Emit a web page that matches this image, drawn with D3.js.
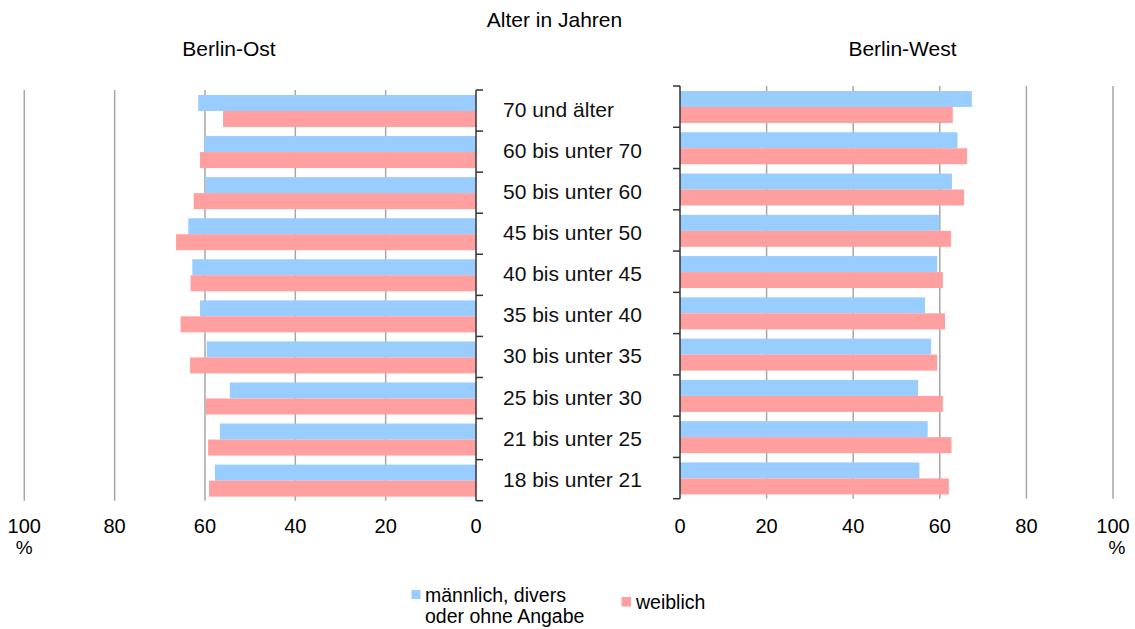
<!DOCTYPE html>
<html>
<head>
<meta charset="utf-8">
<script src="https://cdn.jsdelivr.net/npm/d3@7"></script>
<style>
  body { margin: 0; background: #fff; }
  svg { font-family: "Liberation Sans", Arial, sans-serif; }
  .grid line { stroke: #a6a6a6; stroke-width: 1.5; }
</style>
</head>
<body>
<div id="chart"></div>
<script>
// age groups, top to bottom
const groups = ['70 und älter', '60 bis unter 70', '50 bis unter 60', '45 bis unter 50',
  '40 bis unter 45', '35 bis unter 40', '30 bis unter 35', '25 bis unter 30',
  '21 bis unter 25', '18 bis unter 21'];
const series = ['männlich, divers oder ohne Angabe', 'weiblich'];
const colors = ['#99ccff', '#ff9f9f'];

// Berlin-Ost
const ostM = [61.5, 60.1, 59.9, 63.7, 62.8, 61.1, 59.6, 54.5, 56.7, 57.8];
const ostW = [56.0, 61.1, 62.5, 66.4, 63.2, 65.4, 63.3, 59.8, 59.3, 59.1];
// Berlin-West
const westM = [67.4, 64.1, 62.8, 59.9, 59.4, 56.6, 58.0, 55.0, 57.2, 55.3];
const westW = [63.0, 66.3, 65.6, 62.6, 60.7, 61.2, 59.4, 60.7, 62.7, 62.1];

const ticks = [0, 20, 40, 60, 80, 100];

const W = 1135, H = 629;
const svg = d3.select('#chart').append('svg').attr('width', W).attr('height', H);

// scales
const xOst = d3.scaleLinear().domain([0, 100]).range([476, 24.3]);
const xWest = d3.scaleLinear().domain([0, 100]).range([680, 1113]);
const yOst = d3.scaleBand().domain(groups).range([90, 500.7]);
const yWest = d3.scaleBand().domain(groups).range([86, 498.7]);
const ySub = d3.scaleBand().domain(series).range([5, 37]);

const drawPanel = (x, y, m, w, side) => {
  const g = svg.append('g');
  // gridlines
  g.append('g').attr('class', 'grid')
    .selectAll('line').data(ticks.slice(1)).join('line')
    .attr('x1', d => x(d)).attr('x2', d => x(d))
    .attr('y1', y.range()[0]).attr('y2', y.range()[1]);

  // bars
  const rows = groups.map((c, i) => ({ c, vals: [m[i], w[i]] }));
  g.selectAll('.row').data(rows).join('g')
    .attr('transform', d => `translate(0,${y(d.c)})`)
    .selectAll('rect').data(d => d.vals.map((v, k) => ({ v, s: series[k], k })))
    .join('rect')
    .attr('x', d => Math.min(x(0), x(d.v)))
    .attr('width', d => Math.abs(x(d.v) - x(0)))
    .attr('y', d => ySub(d.s))
    .attr('height', ySub.bandwidth())
    .attr('fill', d => colors[d.k]);

  // category axis line + ticks at band edges
  const bounds = groups.map(c => y(c)).concat([y.range()[1]]);
  const dir = side === 'left' ? 1 : -1;
  g.append('line').attr('x1', x(0)).attr('x2', x(0))
    .attr('y1', y.range()[0]).attr('y2', y.range()[1])
    .attr('stroke', '#333').attr('stroke-width', 1.5);
  g.selectAll('.tk').data(bounds).join('line')
    .attr('x1', x(0)).attr('x2', x(0) + dir * 7)
    .attr('y1', d => d).attr('y2', d => d)
    .attr('stroke', '#333').attr('stroke-width', 1.5);

  // value tick labels
  g.selectAll('.vl').data(ticks).join('text')
    .attr('x', d => x(d)).attr('y', 533)
    .attr('text-anchor', 'middle')
    .attr('font-size', 20)
    .text(d => d);
  g.append('text')
    .attr('x', x(100) + (side === 'left' ? 0 : 4)).attr('y', 554)
    .attr('text-anchor', 'middle').attr('font-size', 19).text('%');
};

drawPanel(xOst, yOst, ostM, ostW, 'left');
drawPanel(xWest, yWest, westM, westW, 'right');

// category labels
svg.append('g').selectAll('text').data(groups).join('text')
  .attr('x', 503)
  .attr('y', d => yOst(d) + yOst.bandwidth() / 2 + 6.5)
  .attr('font-size', 21)
  .attr('fill', '#111')
  .text(d => d);

// titles
svg.append('text').attr('x', 554.5).attr('y', 27).attr('text-anchor', 'middle')
  .attr('font-size', 21).text('Alter in Jahren');
svg.append('text').attr('x', 229).attr('y', 56).attr('text-anchor', 'middle')
  .attr('font-size', 21).text('Berlin-Ost');
svg.append('text').attr('x', 902.5).attr('y', 56).attr('text-anchor', 'middle')
  .attr('font-size', 21).text('Berlin-West');

// legend
const leg = svg.append('g').attr('font-size', 19.5);
leg.append('rect').attr('x', 411.5).attr('y', 590).attr('width', 9).attr('height', 9).attr('fill', colors[0]);
leg.append('text').attr('x', 425).attr('y', 601.5).text('männlich, divers');
leg.append('text').attr('x', 425).attr('y', 623).text('oder ohne Angabe');
leg.append('rect').attr('x', 621.5).attr('y', 597).attr('width', 9.5).attr('height', 9.5).attr('fill', colors[1]);
leg.append('text').attr('x', 636).attr('y', 608.5).text(series[1]);
</script>
</body>
</html>
